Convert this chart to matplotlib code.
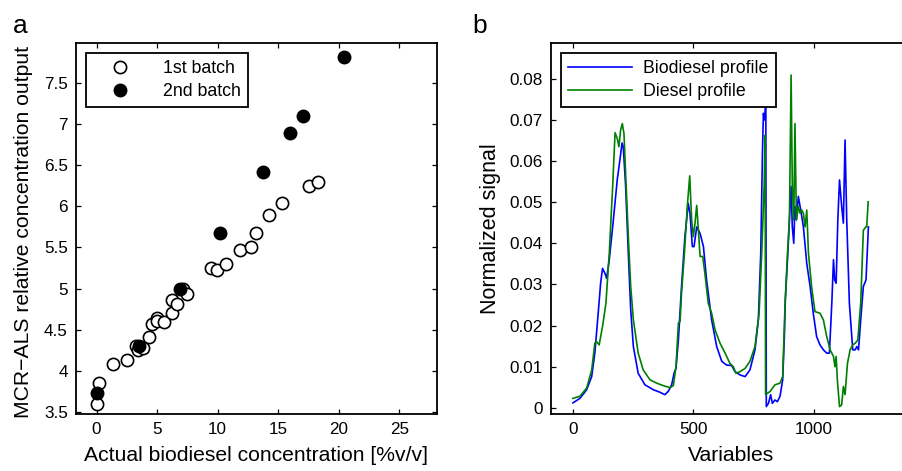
import matplotlib
matplotlib.use("Agg")
import matplotlib.pyplot as plt
from matplotlib.ticker import FixedLocator, FuncFormatter

plt.rcParams['font.family'] = ['Liberation Sans', 'DejaVu Sans']

# ---------------- data: panel a ----------------
batch1_x = [0.0, 0.22, 1.38, 2.5, 3.25, 3.42, 3.86, 4.35, 4.58, 4.96, 5.0, 5.57,
            6.2, 6.26, 6.67, 7.14, 7.44, 9.43, 9.98, 10.7, 11.85, 12.73, 13.18,
            14.2, 15.3, 17.5, 18.27]
batch1_y = [3.60, 3.86, 4.09, 4.14, 4.30, 4.26, 4.28, 4.41, 4.57, 4.65, 4.61, 4.59,
            4.70, 4.86, 4.81, 5.00, 4.94, 5.25, 5.23, 5.30, 5.47, 5.51, 5.68,
            5.89, 6.04, 6.24, 6.29]
batch2_x = [0.0, 3.5, 6.89, 10.2, 13.7, 16.0, 17.0, 20.4]
batch2_y = [3.73, 4.30, 5.00, 5.67, 6.42, 6.89, 7.09, 7.81]

# ---------------- data: panel b ----------------
bio_x = [0, 29, 57, 78, 91, 105, 115, 123, 133, 140, 151, 168, 184, 195, 204, 209,
         219, 230, 240, 251, 271, 299, 334, 361, 382, 396, 410, 420, 428, 438, 451,
         465, 479, 486, 496, 503, 514, 528, 542, 555, 576, 597, 618, 638, 659, 673,
         694, 715, 735, 756, 770, 780, 787, 791, 795, 801, 803, 812, 821, 828, 839,
         849, 860, 871, 878, 882, 891, 899, 906, 911, 917, 922, 928, 936, 946, 957,
         971, 985, 998, 1012, 1026, 1040, 1054, 1065, 1075, 1082, 1087, 1093, 1100,
         1107, 1116, 1123, 1130, 1137, 1148, 1162, 1172, 1179, 1186, 1195, 1206,
         1217, 1227]
bio_y = [0.0012, 0.0023, 0.0044, 0.0076, 0.0133, 0.0230, 0.0303, 0.0339, 0.0327,
         0.0315, 0.0360, 0.0457, 0.0554, 0.0602, 0.0644, 0.0635, 0.0538, 0.0376,
         0.0238, 0.0149, 0.0084, 0.0056, 0.0044, 0.0038, 0.0032, 0.0040, 0.0056,
         0.0084, 0.0096, 0.0165, 0.0295, 0.0416, 0.0497, 0.0473, 0.0392, 0.0392,
         0.0440, 0.0424, 0.0392, 0.0311, 0.0214, 0.0149, 0.0113, 0.0104, 0.0103,
         0.0088, 0.0080, 0.0076, 0.0092, 0.0141, 0.0214, 0.0376, 0.0619, 0.0716,
         0.0700, 0.0745, 0.0003, 0.0011, 0.0032, 0.0011, 0.0019, 0.0015, 0.0028,
         0.0068, 0.0173, 0.0262, 0.0360, 0.0457, 0.0538, 0.0440, 0.0400, 0.0490,
         0.0457, 0.0514, 0.0481, 0.0440, 0.0351, 0.0295, 0.0230, 0.0173, 0.0153,
         0.0141, 0.0133, 0.0133, 0.0254, 0.0360, 0.0311, 0.0303, 0.0457, 0.0554,
         0.0490, 0.0449, 0.0651, 0.0457, 0.0254, 0.0141, 0.0141, 0.0149, 0.0141,
         0.0214, 0.0295, 0.0311, 0.0440]

dies_x = [0, 29, 57, 78, 91, 98, 109, 123, 137, 151, 165, 175, 184, 191, 198, 205,
          212, 220, 230, 240, 251, 271, 292, 320, 348, 375, 403, 417, 428, 438, 445,
          451, 463, 475, 485, 493, 500, 507, 514, 521, 528, 539, 548, 562, 576, 590,
          611, 632, 652, 666, 677, 694, 715, 735, 756, 773, 784, 794, 798, 800, 819,
          839, 860, 871, 881, 891, 899, 906, 911, 917, 922, 928, 936, 943, 950, 957,
          964, 971, 978, 991, 1005, 1026, 1040, 1054, 1068, 1082, 1088, 1093, 1098,
          1107, 1116, 1123, 1130, 1140, 1151, 1162, 1172, 1183, 1195, 1206, 1217,
          1220, 1226]
dies_y = [0.0023, 0.0028, 0.0048, 0.0092, 0.0157, 0.0161, 0.0153, 0.0198, 0.0254,
          0.0376, 0.0538, 0.0669, 0.0655, 0.0635, 0.0675, 0.0691, 0.0667, 0.0554,
          0.0416, 0.0295, 0.0214, 0.0133, 0.0092, 0.0068, 0.0060, 0.0054, 0.0049,
          0.0054, 0.0100, 0.0206, 0.0210, 0.0279, 0.0376, 0.0490, 0.0564, 0.0457,
          0.0416, 0.0449, 0.0492, 0.0432, 0.0368, 0.0368, 0.0327, 0.0254, 0.0230,
          0.0190, 0.0157, 0.0133, 0.0108, 0.0100, 0.0084, 0.0088, 0.0096, 0.0113,
          0.0149, 0.0230, 0.0376, 0.0538, 0.0663, 0.0032, 0.0040, 0.0056, 0.0060,
          0.0076, 0.0254, 0.0376, 0.0457, 0.0809, 0.0538, 0.0457, 0.0691, 0.0457,
          0.0490, 0.0473, 0.0481, 0.0473, 0.0440, 0.0481, 0.0376, 0.0295, 0.0234,
          0.0230, 0.0214, 0.0173, 0.0141, 0.0125, 0.0100, 0.0125, 0.0068, 0.0003,
          0.0007, 0.0052, 0.0032, 0.0108, 0.0141, 0.0153, 0.0157, 0.0165, 0.0254,
          0.0432, 0.0440, 0.0440, 0.0501]

a_xticks = [0, 5, 10, 15, 20, 25]
a_yticks = [3.5, 4, 4.5, 5, 5.5, 6, 6.5, 7, 7.5]
b_xticks = [0, 500, 1000]
b_yticks = [0, 0.01, 0.02, 0.03, 0.04, 0.05, 0.06, 0.07, 0.08]

W, H = 903, 471
fig = plt.figure(figsize=(W / 100, H / 100), dpi=100)

def px_axes(x0, y0, x1, y1):
    return fig.add_axes([x0 / W, 1 - y1 / H, (x1 - x0) / W, (y1 - y0) / H])

def gfmt(v, pos):
    return ('%g' % v)

def style(ax):
    for s in ax.spines.values():
        s.set_linewidth(1.3)
    ax.tick_params(direction='in', length=3.5, width=0.9, top=True, right=True,
                   labelsize=12.3, pad=6)
    ax.xaxis.set_major_formatter(FuncFormatter(gfmt))
    ax.yaxis.set_major_formatter(FuncFormatter(gfmt))

# ---------------- panel a ----------------
ax1 = px_axes(76, 43, 437, 414)
ax1.plot(batch1_x, batch1_y, 'o', ls='none', mfc='white', mec='black', ms=8.8,
         mew=1.2, label='1st batch')
ax1.plot(batch2_x, batch2_y, 'o', ls='none', mfc='black', mec='black', ms=8.8,
         mew=1.2, label='2nd batch')
ax1.set_xlim(-1.7, 28.1)
ax1.set_ylim(3.48, 7.98)
ax1.xaxis.set_major_locator(FixedLocator(a_xticks))
ax1.yaxis.set_major_locator(FixedLocator(a_yticks))
style(ax1)
ax1.set_xlabel('Actual biodiesel concentration [%v/v]', fontsize=15.2, labelpad=6)
ax1.set_ylabel('MCR\u2212ALS relative concentration output', fontsize=15.2, labelpad=5)
ax1.yaxis.set_label_coords(-0.118, 0.49)
leg1 = ax1.legend(loc='upper left', bbox_to_anchor=(0.0277, 0.973), borderaxespad=0,
                  fontsize=12.8, fancybox=False, framealpha=1, edgecolor='black',
                  handlelength=3.0, handletextpad=0.9, labelspacing=0.3,
                  borderpad=0.42, numpoints=1)
leg1.get_frame().set_linewidth(1.3)

# ---------------- panel b ----------------
ax2 = px_axes(551, 43, 912, 414)
ax2.plot(bio_x, bio_y, color='#0000ff', lw=1.2, label='Biodiesel profile')
ax2.plot(dies_x, dies_y, color='#008000', lw=1.2, label='Diesel profile')
ax2.set_xlim(-91, 1408)
ax2.set_ylim(-0.0015, 0.0887)
ax2.xaxis.set_major_locator(FixedLocator(b_xticks))
ax2.yaxis.set_major_locator(FixedLocator(b_yticks))
style(ax2)
ax2.set_xlabel('Variables', fontsize=15.2, labelpad=6)
ax2.set_ylabel('Normalized signal', fontsize=15.5, labelpad=6)
leg2 = ax2.legend(loc='upper left', bbox_to_anchor=(0.0277, 0.973), borderaxespad=0,
                  fontsize=12.8, fancybox=False, framealpha=1, edgecolor='black',
                  handlelength=3.6, handletextpad=0.6, labelspacing=0.3,
                  borderpad=0.42)
leg2.get_frame().set_linewidth(1.3)

fig.text(20 / W, 1 - 33 / H, 'a', fontsize=19, ha='center', va='baseline')
fig.text(480 / W, 1 - 33 / H, 'b', fontsize=19, ha='center', va='baseline')

fig.savefig('out.png', dpi=100)
